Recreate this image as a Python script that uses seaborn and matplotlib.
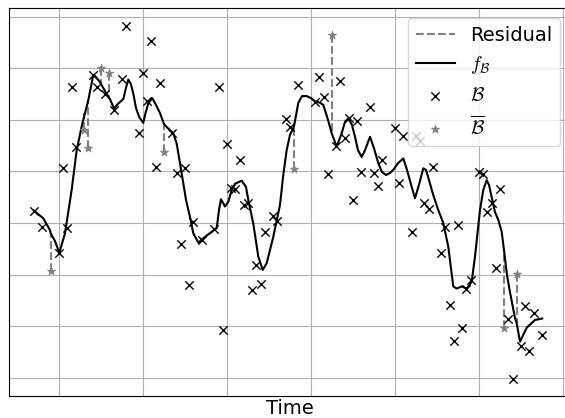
import numpy as np
import pandas as pd
import matplotlib
matplotlib.use("Agg")
import matplotlib.pyplot as plt
import seaborn as sns

# ---- data ----
# observed points B
obs_t = [-6, -4, 0, 1, 2, 3, 4, 8, 9, 11, 13, 15, 16, 19, 20, 21, 22, 23, 24, 27,
         28, 29, 30, 31, 32, 34, 37, 38, 39, 40, 41, 42, 43, 44, 45, 46, 47, 48, 49, 51,
         52, 54, 55, 57, 61, 62, 63, 64, 66, 67, 68, 69, 70, 71, 72, 74, 75, 76, 77, 80,
         81, 82, 84, 85, 86, 87, 88, 89, 91, 92, 93, 94, 95, 96, 97, 98, 100, 101, 102, 103,
         104, 105, 107, 108, 110, 111, 112, 113, 115]
obs_y = [0.24, -0.08, -0.59, 1.06, -0.09, 2.63, 1.48, 2.87, 2.63, 2.50, 2.19, 2.80, 3.82, 1.75, 2.91, 2.37, 3.53, 1.09, 2.71, 1.74,
         0.96, -0.41, 1.07, -1.21, 0.01, -0.33, -0.12, 2.63, -2.07, 1.53, 0.67, 0.65, 1.23, 0.34, 0.38, -1.30, -0.81, -1.18, -0.18, 0.14,
         0.04, 2.02, 1.87, 2.67, 2.35, 2.82, 2.44, 0.95, 1.49, 2.76, 1.65, 2.03, 0.45, 1.98, 0.98, 2.25, 0.97, 0.72, 1.23, 1.84,
         0.77, 1.69, -0.17, 1.69, 1.59, 0.39, 0.27, 1.09, -0.58, -0.07, -1.59, -2.29, -0.03, -2.04, -1.28, -1.10, 0.99, 0.95, 0.22, 0.39,
         -0.88, 0.66, -1.87, -3.02, -2.38, -1.61, -2.49, -1.74, -2.17]

# held-out points B-bar and the fitted value at their times
bar_t = [-2, 6, 7, 10, 12, 25, 56, 65, 106, 109]
bar_y = [-0.94, 1.80, 1.46, 3.00, 2.91, 1.37, 1.05, 3.64, -2.03, -0.99]
bar_fit = [-0.20, 2.13, 2.38, 2.67, 2.40, 1.92, 1.87, 1.74, -0.52, -1.94]

# fitted curve f_B
fit_t = [-5.95, -3.74, -2.14, -1.98, -0.95, 0.07, 1.43, 3.02, 4.21, 5.40, 6.19, 6.98, 8.17, 8.81,
         9.76, 10.17, 11.36, 12.14, 13.10, 14.05, 15.31, 15.95, 16.50, 17.14, 17.69, 18.33, 19.12,
         20.07, 20.60, 21.26, 22.21, 23.10, 24.05, 25.00, 25.64, 27.21, 28.02, 28.81, 29.60, 30.24,
         31.19, 31.98, 33.17, 34.76, 36.36, 37.55, 38.10, 38.57, 39.05, 39.52, 40.31, 41.12, 41.90,
         43.50, 44.52, 45.07, 46.26, 47.45, 48.50, 49.45, 51.02, 52.62, 53.40, 54.21, 55.00, 55.95,
         56.98, 57.86, 58.98, 60.00, 60.95, 62.14, 62.93, 64.05, 64.93, 66.12, 67.31, 68.10, 68.88,
         69.76, 70.48, 71.19, 72.07, 72.86, 74.05, 75.00, 76.02, 76.90, 77.86, 78.81, 79.60, 80.71,
         81.98, 82.86, 83.98, 84.76, 85.71, 86.74, 87.38, 88.10, 89.12, 90.31, 91.50, 92.69, 93.88,
         94.69, 95.88, 97.07, 98.26, 99.05, 100.24, 101.02, 101.83, 102.38, 103.02, 103.81, 104.60,
         105.40, 105.95, 106.67, 107.38, 108.57, 108.98, 109.76, 111.36, 113.33, 115.07]
fit_y = [0.24, 0.09, -0.14, -0.20, -0.35, -0.58, -0.20, 0.64, 1.41, 1.87, 2.13, 2.38, 2.87, 2.83,
         2.73, 2.67, 2.50, 2.40, 2.22, 2.31, 2.40, 2.62, 2.78, 2.69, 2.51, 2.23, 2.05,
         1.94, 2.13, 2.32, 2.42, 2.29, 2.13, 1.92, 1.86, 1.74, 1.54, 1.16, 0.77, 0.45,
         0.12, -0.20, -0.38, -0.27, -0.17, -0.10, 0.25, 0.46, 0.39, 0.32, 0.41, 0.64, 0.76,
         0.82, 0.70, 0.45, -0.01, -0.65, -0.91, -0.78, -0.27, 0.35, 0.93, 1.41, 1.71, 1.87,
         2.33, 2.46, 2.46, 2.42, 2.36, 2.33, 2.29, 2.00, 1.74, 1.48, 1.74, 1.96, 2.03,
         1.90, 1.67, 1.41, 1.28, 1.41, 1.67, 1.45, 1.16, 0.99, 0.93, 0.97, 1.03, 1.16,
         1.25, 1.03, 0.70, 0.48, 0.74, 1.06, 1.03, 0.83, 0.54, 0.25, 0.00, -0.46, -1.23,
         -1.27, -1.23, -1.27, -1.14, -0.65, 0.25, 0.64, 0.83, 0.74, 0.50, 0.21, 0.06,
         -0.17, -0.52, -1.01, -1.34, -1.84, -1.94, -2.30, -2.03, -1.88, -1.85]

x_ticks = [0, 20, 40, 60, 80, 100, 120]
y_ticks = [-3, -2, -1, 0, 1, 2, 3, 4]

plt.rcParams["font.size"] = 14
plt.rcParams["mathtext.fontset"] = "cm"

fig = plt.figure(figsize=(5.65, 4.18), dpi=100)
ax = fig.add_axes([9 / 565, 22 / 418, 561 / 565, 388 / 418])

ax.vlines(bar_t, bar_y, bar_fit, colors="gray", linestyles="--", linewidth=1.5,
          label="Residual", zorder=2)
sns.lineplot(x=fit_t, y=fit_y, ax=ax, color="black", linewidth=1.5, sort=False,
             label=r"$f_{\mathcal{B}}$", zorder=3)
sns.scatterplot(x=obs_t, y=obs_y, ax=ax, marker="x", color="black", s=36,
                linewidth=1.0, label=r"$\mathcal{B}$", zorder=4)
sns.scatterplot(x=bar_t, y=bar_y, ax=ax, marker="*", color="gray", s=40,
                edgecolor="gray", linewidth=0.5, label=r"$\overline{\mathcal{B}}$", zorder=4)

ax.set_xlim(-11.9, 121.67)
ax.set_ylim(-3.353, 4.167)
ax.set_xticks(x_ticks)
ax.set_yticks(y_ticks)
ax.grid(True, color="#b0b0b0", linewidth=0.8)
ax.set_axisbelow(True)
ax.tick_params(length=0, labelbottom=False, labelleft=False)
ax.set_xlabel("Time", fontsize=14, labelpad=2)
ax.set_ylabel("")
ax.legend(loc="upper right", fontsize=14)

fig.savefig("out.png", dpi=100)
